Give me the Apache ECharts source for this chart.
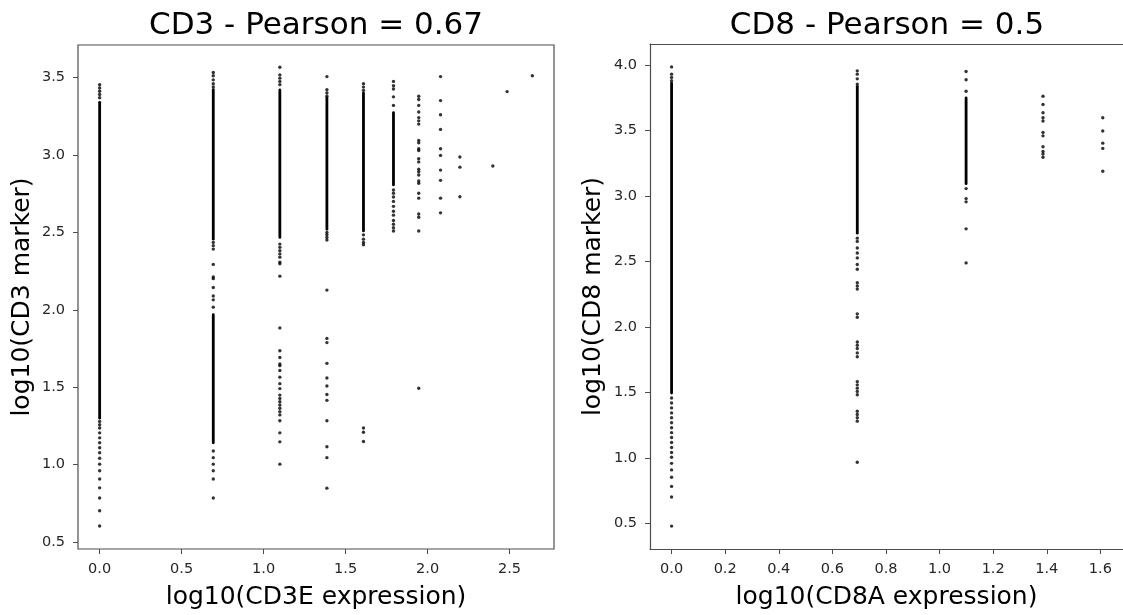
<!DOCTYPE html>
<html>
<head>
<meta charset="utf-8">
<script src="https://cdn.jsdelivr.net/npm/echarts@6/dist/echarts.min.js"></script>
<style>
  html, body { margin: 0; padding: 0; background: #fff; }
  #chart { width: 1123px; height: 615px; }
</style>
</head>
<body>
<div id="chart"></div>
<script>
// ---------- CD3 panel ----------
const cd3ColumnsX = [0, 0.693, 1.099, 1.386, 1.609, 1.792, 1.946, 2.079, 2.197, 2.398, 2.485, 2.639];
// dense (visually continuous) runs of points per column: [low, high]
const cd3DenseRuns = [
  [[1.30, 3.34]],
  [[2.456, 3.422], [1.141, 1.968]],
  [[2.467, 3.42]],
  [[2.52, 3.368]],
  [[2.509, 3.40]],
  [[2.806, 3.273]],
  [], [], [], [], [], []
];
// individually visible points per column
const cd3SparseY = [
  [3.453, 3.432, 3.411, 3.39, 3.369, 1.279, 1.257, 1.236, 1.205, 1.173, 1.141, 1.109, 1.077, 1.041, 1.003, 0.960, 0.907, 0.850, 0.784, 0.702, 0.604],
  [3.532, 3.511, 3.485, 3.460, 3.439, 2.435, 2.414, 2.392, 2.293, 2.212, 2.201, 2.144, 2.089, 2.064, 2.017, 1.088, 1.045, 1.003, 0.960, 0.907, 0.784],
  [3.566, 3.517, 3.496, 3.475, 3.454, 2.424, 2.403, 2.382, 2.361, 2.340, 2.308, 2.297, 2.217, 1.883, 1.735, 1.692, 1.650, 1.639, 1.608, 1.565, 1.523, 1.491, 1.449, 1.427, 1.406, 1.385, 1.364, 1.342, 1.321, 1.283, 1.205, 1.147, 1.003],
  [3.506, 3.421, 3.400, 3.379, 2.499, 2.484, 2.467, 2.450, 2.127, 1.815, 1.788, 1.654, 1.559, 1.508, 1.453, 1.415, 1.283, 1.115, 1.045, 0.848],
  [3.460, 3.438, 3.417, 2.484, 2.456, 2.435, 2.420, 1.236, 1.209, 1.149],
  [3.475, 3.447, 3.426, 3.375, 3.320, 2.774, 2.753, 2.728, 2.700, 2.668, 2.636, 2.611, 2.577, 2.552, 2.530, 2.509],
  [3.379, 3.358, 3.320, 3.277, 3.241, 3.220, 3.199, 3.093, 3.078, 3.040, 3.029, 2.976, 2.955, 2.908, 2.891, 2.870, 2.832, 2.817, 2.753, 2.721, 2.619, 2.598, 2.509, 1.493],
  [3.506, 3.351, 3.260, 3.165, 3.040, 2.997, 2.902, 2.836, 2.721, 2.626],
  [2.987, 2.921, 2.730],
  [2.929],
  [3.409],
  [3.511]
];
const cd3XTicks = [0, 0.5, 1.0, 1.5, 2.0, 2.5];
const cd3YTicks = [0.5, 1.0, 1.5, 2.0, 2.5, 3.0, 3.5];

// ---------- CD8 panel ----------
const cd8ColumnsX = [0, 0.693, 1.099, 1.386, 1.609];
const cd8DenseRuns = [
  [[1.496, 3.862]],
  [[2.716, 3.837]],
  [[3.094, 3.748]],
  [], []
];
const cd8SparseY = [
  [3.985, 3.930, 3.905, 3.879, 1.458, 1.420, 1.382, 1.344, 1.307, 1.269, 1.231, 1.193, 1.156, 1.118, 1.080, 1.042, 1.005, 0.959, 0.909, 0.853, 0.783, 0.702, 0.480],
  [3.955, 3.930, 3.894, 3.854, 2.678, 2.653, 2.603, 2.565, 2.527, 2.477, 2.440, 2.338, 2.313, 2.289, 2.100, 2.074, 1.885, 1.860, 1.835, 1.802, 1.772, 1.583, 1.558, 1.533, 1.508, 1.483, 1.357, 1.332, 1.307, 1.281, 0.967],
  [3.950, 3.887, 3.799, 3.056, 2.980, 2.955, 2.749, 2.489],
  [3.761, 3.698, 3.635, 3.597, 3.572, 3.484, 3.459, 3.376, 3.340, 3.320, 3.295],
  [3.597, 3.496, 3.403, 3.363, 3.189]
];
const cd8XTicks = [0, 0.2, 0.4, 0.6, 0.8, 1.0, 1.2, 1.4, 1.6];
const cd8YTicks = [0.5, 1.0, 1.5, 2.0, 2.5, 3.0, 3.5, 4.0];

const titles = ['CD3 - Pearson = 0.67', 'CD8 - Pearson = 0.5'];
const xNames = ['log10(CD3E expression)', 'log10(CD8A expression)'];
const yNames = ['log10(CD3 marker)', 'log10(CD8 marker)'];

// ---------- build ----------
const FONT = 'DejaVu Sans';
const SPINE = '#4d4d4d';
const TXT = '#262626';

function axisCommon(ticks, labelMargin, showLine) {
  return {
    type: 'value',
    splitLine: { show: false },
    axisLine: { show: !!showLine, onZero: false, lineStyle: { color: SPINE, width: 1.2 } },
    axisTick: { show: true, length: 5, lineStyle: { color: SPINE, width: 1 }, customValues: ticks },
    axisLabel: {
      customValues: ticks, color: TXT, fontFamily: FONT, fontSize: 14.5, margin: labelMargin,
      formatter: v => v.toFixed(1)
    },
    nameLocation: 'middle',
    nameTextStyle: { color: '#000', fontFamily: FONT, fontSize: 25 }
  };
}

function panelSeries(idx, colsX, runs, sparse) {
  const out = [];
  const pts = [];
  colsX.forEach((x, i) => {
    runs[i].forEach(r => {
      out.push({
        type: 'line', xAxisIndex: idx, yAxisIndex: idx,
        data: [[x, r[0]], [x, r[1]]],
        symbol: 'none', silent: true, animation: false,
        lineStyle: { color: '#000', width: 2.8, cap: 'round' }
      });
    });
    sparse[i].forEach(y => pts.push([x, y]));
  });
  out.push({
    type: 'scatter', xAxisIndex: idx, yAxisIndex: idx,
    data: pts, symbol: 'circle', symbolSize: 3.4,
    itemStyle: { color: '#000' }, animation: false, silent: true
  });
  return out;
}

const option = {
  backgroundColor: '#fff',
  animation: false,
  title: titles.map((t, i) => ({
    text: t, left: [316, 887][i], top: 10, textAlign: 'center', padding: 0,
    textStyle: { fontFamily: FONT, fontSize: 31, fontWeight: 'normal', color: '#000' }
  })),
  grid: [
    { left: 78, top: 45, width: 476, height: 510, show: true, borderColor: SPINE, borderWidth: 1.2 },
    { left: 650, top: 44, width: 473, height: 511, show: false }
  ],
  xAxis: [
    Object.assign(axisCommon(cd3XTicks, 13, false), { gridIndex: 0, min: -0.132, max: 2.771, name: xNames[0], nameGap: 36 }),
    Object.assign(axisCommon(cd8XTicks, 13, true), { gridIndex: 1, min: -0.0805, max: 1.6845, name: xNames[1], nameGap: 36 }),
    // top spine of the right panel
    { type: 'value', gridIndex: 1, position: 'top', min: -0.0805, max: 1.6845,
      axisLine: { show: true, onZero: false, lineStyle: { color: SPINE, width: 1.2 } },
      axisTick: { show: false }, axisLabel: { show: false }, splitLine: { show: false } }
  ],
  yAxis: [
    Object.assign(axisCommon(cd3YTicks, 13, false), { gridIndex: 0, min: 0.455, max: 3.71, name: yNames[0], nameGap: 43 }),
    Object.assign(axisCommon(cd8YTicks, 13, true), { gridIndex: 1, min: 0.305, max: 4.16, name: yNames[1], nameGap: 44 })
  ],
  series: [].concat(
    panelSeries(0, cd3ColumnsX, cd3DenseRuns, cd3SparseY),
    panelSeries(1, cd8ColumnsX, cd8DenseRuns, cd8SparseY)
  )
};

const chart = echarts.init(document.getElementById('chart'), null, { renderer: 'canvas' });
chart.setOption(option);
</script>
</body>
</html>
